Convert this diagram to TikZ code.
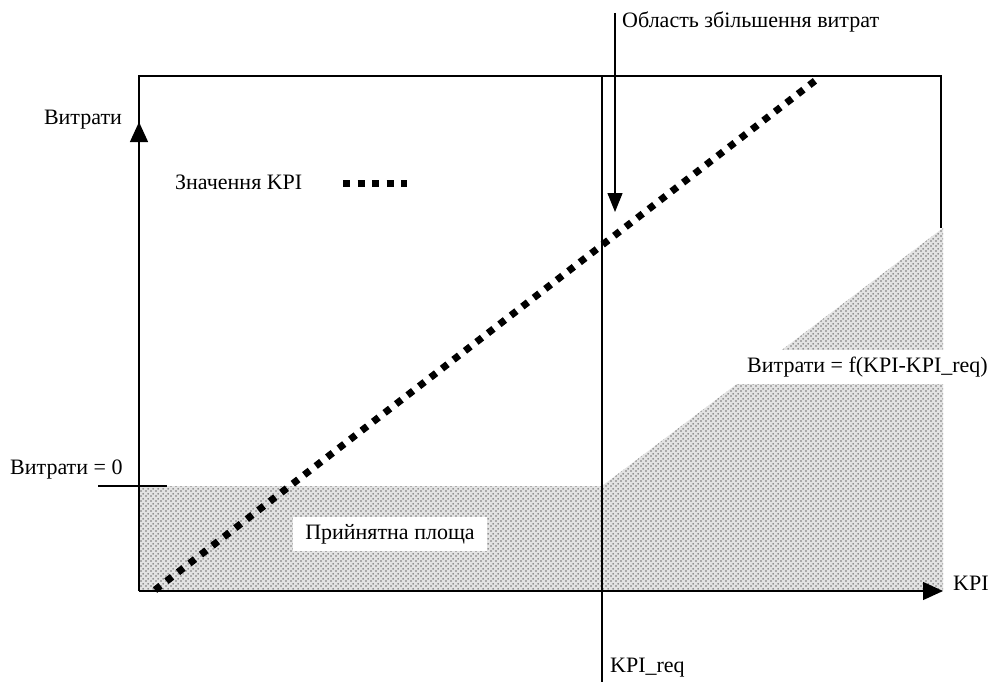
\documentclass[tikz,border=0pt]{standalone}
\usepackage{fontspec}
\setmainfont{Liberation Serif}
\usetikzlibrary{arrows.meta,patterns.meta}

% fine dot screen used for the shaded cost zones
\tikzdeclarepattern{
  name=shadedots,
  type=uncolored,
  bounding box={(0pt,0pt) and (5pt,5pt)},
  tile size={(5pt,5pt)},
  code={
    \fill (1.25pt,1.25pt) circle (1.05pt);
    \fill (3.75pt,3.75pt) circle (1.05pt);
  }
}

\begin{document}
\begin{tikzpicture}[x=1pt,y=-1pt,
  lbl/.style={font=\fontsize{22}{26}\selectfont, inner sep=0pt},
  rule/.style={line width=1.3pt},
  axis/.style={rule, -{Triangle[length=20pt,width=18pt]}},
  downarrow/.style={rule, -{Triangle[length=19pt,width=15pt]}},
  kpidots/.style={line width=7pt, dash pattern=on 7pt off 7.5pt},
  zone/.style={fill=gray!22, postaction={pattern=shadedots, pattern color=black!55}},
  whitebox/.style={fill=white, inner xsep=12pt, inner ysep=7pt}]

\useasboundingbox (0,0) rectangle (1000,682);

% key points of the chart
\coordinate (O) at (139,591);
\coordinate (ytop) at (139,76);
\coordinate (ytip) at (139,122);
\coordinate (xtip) at (943,591);
\coordinate (frTR) at (941,76);
\coordinate (frR) at (941,228);
\coordinate (reqTop) at (602,76);
\coordinate (reqBot) at (602,682);
\coordinate (reqLvl) at (602,486);
\coordinate (reqBase) at (602,591);
\coordinate (zeroL) at (139,486);
\coordinate (fnTop) at (943,228);
\coordinate (fnBase) at (943,591);
\coordinate (areaStart) at (615,13);
\coordinate (areaTip) at (615,212);
\coordinate (kpiStart) at (155,590);
\coordinate (kpiEnd) at (816,80);
\coordinate (legA) at (343,183);
\coordinate (legB) at (407,183);
\coordinate (ulA) at (98,486);
\coordinate (ulB) at (167,486);

% shaded zones
\path[zone] (zeroL) rectangle (reqBase);
\path[zone] (reqLvl) -- (fnTop) -- (fnBase) -- (reqBase) -- cycle;

% frame and axes
\draw[rule] (O) -- (ytop) -- (frTR) -- (frR);
\draw[axis] (O) -- (ytip);
\draw[axis] (O) -- (xtip);
\draw[rule] (reqTop) -- (reqBot);
\draw[rule] (ulA) -- (ulB);
\draw[downarrow] (areaStart) -- (areaTip);

% KPI value line and its legend sample
\draw[kpidots] (kpiStart) -- (kpiEnd);
\draw[kpidots] (legA) -- (legB);

% labels
\node[lbl] (ylab) at (83,120) {Витрати};
\node[lbl, anchor=west] (area) at (622,22) {Область збільшення витрат};
\node[lbl, anchor=west] (kpiv) at (175,182) {Значення KPI};
\node[lbl, anchor=west] (zero) at (10,470) {Витрати = 0};
\node[lbl, whitebox] (accept) at (390,534) {Прийнятна площа};
\node[lbl, whitebox, anchor=west] (fn) at (735,367) {Витрати = f(KPI-KPI\_req)};
\node[lbl, anchor=west] (kpi) at (953,583) {KPI};
\node[lbl, anchor=west] (req) at (610,668) {KPI\_req};
\end{tikzpicture}
\end{document}
